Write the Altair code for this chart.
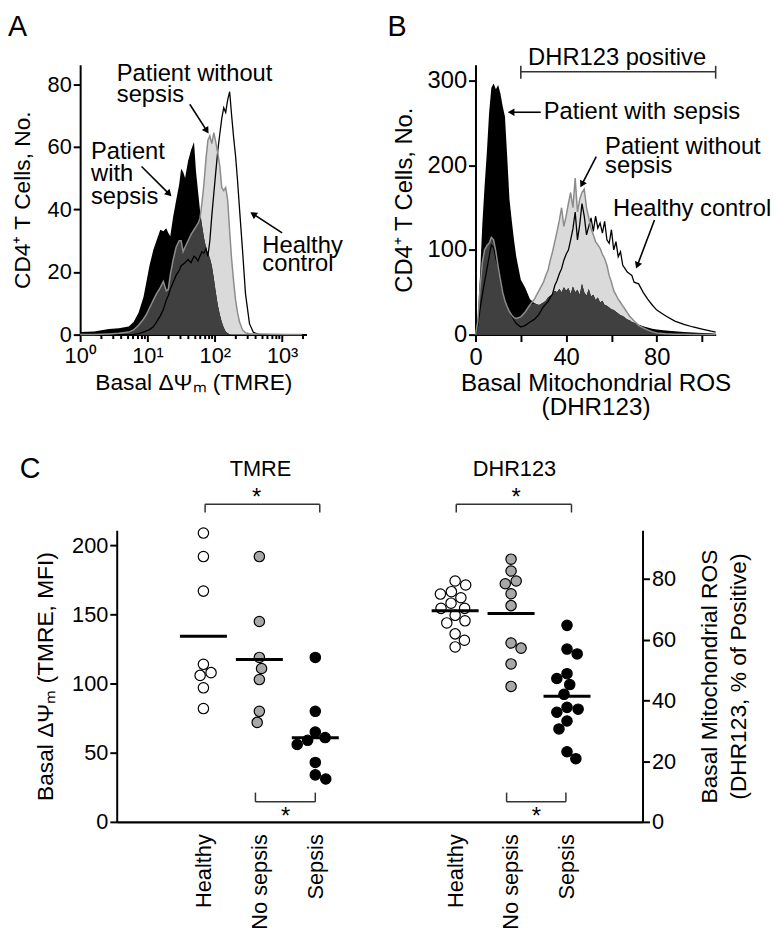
import math
import altair as alt
import pandas as pd

FONT = "Liberation Sans"

# ---------------- Panel A : TMRE histograms (x = TMRE intensity) ----------------
a_tmre = [1.0, 1.61, 2.67, 3.75, 5.26, 6.22, 7.37, 8.73, 9.67, 10.7,
          12.2, 13.6, 15.5, 17.2, 19.0, 20.4, 21.8, 24.1, 26.7, 29.6,
          31.6, 33.8, 36.2, 40.1, 44.4, 49.1, 52.6, 56.2, 60.1, 64.4,
          68.9, 73.8, 78.9, 84.4, 90.3, 96.6, 103.4, 110.7, 118.5, 126.8,
          135.6, 145.1, 155.3, 166.2, 177.8, 190.3, 203.6, 217.9, 233.2, 258,
          285.8, 327.3, 374.9, 458.8, 713, 1185, 1968]
a_sepsis = [0.8, 1.0, 1.8, 2.0, 2.6, 4.0, 7.0, 12, 17, 22,
            27, 30, 33.5, 33, 34, 32.5, 31.4, 37.7, 43, 48,
            53, 52, 50, 55.5, 59, 61.5, 52, 46, 40, 35,
            31, 28, 26, 24.5, 22, 18, 13.5, 9.5, 6.5, 4,
            2.3, 1.0, 0.4, 0.1, 0, 0, 0, 0, 0, 0,
            0, 0, 0, 0, 0, 0, 0]
a_nosepsis = [0, 0, 0.2, 0.4, 0.8, 1.5, 3, 5, 6.5, 8.5,
              11, 13, 15, 17, 14, 14.5, 19, 24, 28, 30,
              30, 26.5, 28, 30, 32, 33.5, 34.5, 35.5, 37, 42,
              48, 56, 62, 63.5, 61, 64.5, 61.5, 58, 54, 47,
              46, 47, 43, 33, 24, 17, 11, 7, 4, 1.5,
              0.6, 0.3, 0.2, 0.2, 0.1, 0, 0]
a_healthy = [0, 0, 0, 0, 0, 0.1, 0.3, 0.8, 1.2, 1.6,
             2.5, 4, 6, 8, 11, 12.5, 14.5, 16.7, 19, 20.5,
             22, 22.5, 23, 24, 23, 25, 24.5, 23.5, 25, 26.5,
             26, 27.5, 25, 30, 38, 45, 52, 58.7, 64, 69,
             72.5, 71, 75, 77.6, 70, 63, 57, 49, 40, 27,
             13, 3.5, 0.7, 0.1, 0, 0, 0]

# ---------------- Panel B : DHR123 histograms ----------------
b_dhr = [0, 1, 2, 3, 4, 5, 6, 7, 8, 9, 10, 11, 12, 13, 14, 15, 16, 17, 18,
         20, 22, 24, 26, 28,
         30, 31, 32, 33, 34, 35, 36, 37, 38, 39, 40, 41, 42, 43, 44, 45, 46, 47, 48, 49,
         50, 51, 52, 53, 54, 55, 56, 57, 58, 59, 60, 61, 62, 63, 64, 65, 66, 67, 68, 69, 70,
         72, 74, 76, 78, 80, 84, 88, 92, 96, 100, 104, 106]
b_sepsis = [0, 20, 70, 130, 175, 215, 262, 292, 297, 290, 295, 285, 270, 258, 210, 160, 135, 112, 92,
            65, 55, 42, 37, 35,
            38, 40, 44, 46, 48, 52, 50, 54, 50, 56, 52, 55, 48, 57, 50, 53, 47, 60, 50, 46,
            54, 45, 47, 41, 44, 38, 40, 35, 34, 32, 30, 29, 27, 25, 23, 22, 20, 18, 17, 15, 14,
            12, 10, 8.5, 7, 6, 5, 4, 3.2, 2.5, 2, 1.5, 1]
b_nosepsis = [0, 15, 55, 85, 100, 105, 108, 115, 112, 98, 80, 65, 50, 40, 33, 27, 23, 20, 19,
              21, 27, 35, 42, 52,
              62, 70, 76, 88, 98, 110, 122, 135, 150, 128, 140, 155, 168, 150, 185, 145, 160, 168, 172, 150,
              138, 125, 118, 110, 106, 102, 95, 90, 82, 70, 62, 52, 47, 42, 38, 34, 30, 26, 22, 19, 16,
              11, 8, 5.5, 3.5, 2, 1, 0.5, 0.3, 0.2, 0.1, 0, 0]
b_healthy = [0, 10, 30, 47, 62, 77, 92, 106, 103, 90, 80, 65, 52, 43, 35, 28, 22, 17, 13,
             9, 11, 15, 18, 24,
             33, 36, 39, 44, 48, 58, 64, 72, 78, 88, 95, 100, 112, 125, 145, 112, 130, 155, 140, 118,
             128, 138, 122, 140, 126, 132, 120, 134, 112, 108, 124, 100, 110, 92, 98, 82, 78, 74, 72, 70, 62,
             60, 50, 42, 35, 29, 22, 16, 12, 9, 6.5, 4, 3]

# ---------------- Panel C : per-patient values ----------------
groups = ["Healthy", "No sepsis", "Sepsis"]
tmre_healthy = [209, 192, 167, 114, 108, 106, 97, 82]
tmre_nosepsis = [192, 145, 119, 111, 103, 80, 72]
tmre_sepsis = [119, 80, 65, 59, 61, 56, 43, 34, 31]
dhr_healthy = [78.0, 79.3, 75.8, 75.0, 73.8, 72.0, 70.3, 70.3, 68.0, 66.2, 65.5, 61.9, 59.8, 57.6]
dhr_nosepsis = [86.5, 82.6, 79.3, 78.4, 75.1, 71.2, 58.9, 57.2, 52.0, 44.6]
dhr_sepsis = [64.7, 56.9, 55.3, 48.8, 47.2, 45.2, 42.0, 37.7, 37.1, 36.1, 33.2, 30.6, 23.1, 20.8]
tmre_pos = [1.5, 2.5, 3.5]
dhr_pos = [6, 7, 8]

NOTE_FS = 24
IND = dict(x="independent", y="independent")


# ================= helpers =================
def arrows(arr, xsc, ysc, xpx, ypx):
    rows = []
    for x1, y1, x2, y2 in arr:
        dx = xpx(x2) - xpx(x1)
        dy = ypx(y2) - ypx(y1)
        ang = math.degrees(math.atan2(dx, -dy)) % 360
        rows.append(dict(x1=x1, y1=y1, x2=x2, y2=y2, ang=ang))
    d = pd.DataFrame(rows)
    rule = alt.Chart(d).mark_rule(strokeWidth=1.6, color="black").encode(
        x=alt.X("x1:Q", scale=xsc, axis=None), y=alt.Y("y1:Q", scale=ysc, axis=None),
        x2="x2:Q", y2="y2:Q")
    head = alt.Chart(d).mark_point(shape="triangle", filled=True, size=60, color="black", opacity=1).encode(
        x=alt.X("x2:Q", scale=xsc, axis=None), y=alt.Y("y2:Q", scale=ysc, axis=None),
        angle=alt.Angle("ang:Q", scale=None))
    return alt.layer(rule, head).resolve_axis(**IND)


def note(t, x, y, xsc, ysc, **kw):
    d = pd.DataFrame({"x": [x], "y": [y], "t": [t]})
    opts = dict(fontSize=NOTE_FS, align="left", baseline="alphabetic", lineBreak="\n", color="black")
    opts.update(kw)
    return alt.Chart(d).mark_text(**opts).encode(
        x=alt.X("x:Q", scale=xsc, axis=None), y=alt.Y("y:Q", scale=ysc, axis=None), text="t:N")


def letter(t, px, py, size=29, opacity=1):
    d = pd.DataFrame({"t": [t]})
    return alt.Chart(d).mark_text(fontSize=size, align="left", baseline="top",
                                  color="black", opacity=opacity).encode(
        x=alt.value(px), y=alt.value(py), text="t:N")


# ================= Panel A =================
A_W, A_H = 229, 273
A_XMAX, A_YMAX = 2300, 86.2
axs = alt.Scale(type="log", domain=[1, A_XMAX], nice=False)
ays = alt.Scale(domain=[0, A_YMAX], nice=False)
a_px = lambda v: A_W * math.log10(v) / math.log10(A_XMAX)
a_py = lambda v: A_H * (1 - v / A_YMAX)

dfA = pd.DataFrame({"x": a_tmre, "S": a_sepsis, "N": a_nosepsis, "H": a_healthy})
baseA = alt.Chart(dfA)
minor = [2, 3, 4, 5, 6, 7, 8, 9, 20, 30, 40, 50, 60, 70, 80, 90,
         200, 300, 400, 500, 600, 700, 800, 900, 2000]
A_n_area = baseA.mark_area(color="#dadada").encode(
    x=alt.X("x:Q", scale=axs, axis=alt.Axis(
        values=[1, 10, 100, 1000], labelFlush=False, labelPadding=4, titlePadding=6,
        labelExpr="datum.value == 1 ? '10⁰' : datum.value == 10 ? '10¹' : datum.value == 100 ? '10²' : '10³'",
        title="Basal ΔΨₘ (TMRE)")),
    y=alt.Y("N:Q", scale=ays, axis=alt.Axis(values=[0, 20, 40, 60, 80], title="CD4⁺ T Cells, No.",
                                            titlePadding=13)))
A_s_area = baseA.mark_area(color="black").encode(
    x=alt.X("x:Q", scale=axs, axis=None), y=alt.Y("S:Q", scale=ays, axis=None))
A_d_area = baseA.transform_calculate(D="min(datum.S, datum.N)").mark_area(color="#404040").encode(
    x=alt.X("x:Q", scale=axs, axis=None), y=alt.Y("D:Q", scale=ays, axis=None))
A_h_line = baseA.mark_line(color="black", strokeWidth=1.3).encode(
    x=alt.X("x:Q", scale=axs, axis=alt.Axis(values=minor, labels=False, domain=False, tickSize=4,
                                            title=None, orient="bottom")),
    y=alt.Y("H:Q", scale=ays, axis=None))
A_n_line = baseA.mark_line(color="#8c8c8c", strokeWidth=1.5).encode(
    x=alt.X("x:Q", scale=axs, axis=None), y=alt.Y("N:Q", scale=ays, axis=None))

A = alt.layer(
    A_n_area, A_s_area, A_d_area, A_h_line, A_n_line,
    note("Patient without\nsepsis", 3.5, 81.1, axs, ays, lineHeight=21),
    note("Patient\nwith\nsepsis", 1.45, 56.2, axs, ays, lineHeight=23),
    note("Healthy\ncontrol", 508, 26.2, axs, ays, lineHeight=18.5),
    arrows([(42.5, 73.6, 74.5, 65.4), (8.16, 53.7, 20.4, 45.2), (1000, 32.5, 383.5, 38.3)],
           axs, ays, a_px, a_py),
    letter("A", -73, -52),
).resolve_axis(**IND).properties(width=A_W, height=A_H)

# ================= Panel B =================
B_W, B_H = 243, 273
B_XMAX, B_YMAX = 106, 319
bxs = alt.Scale(domain=[0, B_XMAX], nice=False)
bys = alt.Scale(domain=[0, B_YMAX], nice=False)
b_px = lambda v: B_W * v / B_XMAX
b_py = lambda v: B_H * (1 - v / B_YMAX)

dfB = pd.DataFrame({"x": b_dhr, "S": b_sepsis, "N": b_nosepsis, "H": b_healthy})
baseB = alt.Chart(dfB)
B_n_area = baseB.mark_area(color="#dadada").encode(
    x=alt.X("x:Q", scale=bxs, axis=alt.Axis(
        values=[0, 20, 40, 60, 80, 100], labelFlush=False, labelPadding=4, titlePadding=3,
        labelFontSize=24, titleFontSize=24.5,
        labelExpr="datum.value % 40 == 0 ? datum.label : ''",
        title=["Basal Mitochondrial ROS", "(DHR123)"], titleLineHeight=24)),
    y=alt.Y("N:Q", scale=bys, axis=alt.Axis(values=[0, 100, 200, 300], title="CD4⁺ T Cells, No.",
                                            labelFontSize=24, titleFontSize=24, titlePadding=11)))
B_s_area = baseB.mark_area(color="black").encode(
    x=alt.X("x:Q", scale=bxs, axis=None), y=alt.Y("S:Q", scale=bys, axis=None))
B_d_area = baseB.transform_calculate(D="min(datum.S, datum.N)").mark_area(color="#404040").encode(
    x=alt.X("x:Q", scale=bxs, axis=None), y=alt.Y("D:Q", scale=bys, axis=None))
B_h_line = baseB.mark_line(color="black", strokeWidth=1.3).encode(
    x=alt.X("x:Q", scale=bxs, axis=None), y=alt.Y("H:Q", scale=bys, axis=None))
B_n_line = baseB.mark_line(color="#8c8c8c", strokeWidth=1.5).encode(
    x=alt.X("x:Q", scale=bxs, axis=None), y=alt.Y("N:Q", scale=bys, axis=None))

pos_bracket = pd.DataFrame({"x": [20, 20, 106], "x2": [106, 20, 106],
                            "y": [310.8, 317.8, 317.8], "y2": [310.8, 302.6, 302.6]})
B_bracket = alt.Chart(pos_bracket).mark_rule(color="#333333", strokeWidth=1.6).encode(
    x=alt.X("x:Q", scale=bxs, axis=None), x2="x2:Q",
    y=alt.Y("y:Q", scale=bys, axis=None), y2="y2:Q")

B = alt.layer(
    B_n_area, B_s_area, B_d_area, B_h_line, B_n_line, B_bracket,
    note("DHR123 positive", 62.5, 319, bxs, bys, align="center"),
    note("Patient with sepsis", 30.1, 254.7, bxs, bys),
    note("Patient without\nsepsis", 57.2, 213.8, bxs, bys, lineHeight=19),
    note("Healthy control", 60.7, 140.2, bxs, bys),
    arrows([(28.8, 262.9, 16.2, 262.9), (53.3, 210.3, 47.2, 178.8), (79.0, 135.5, 71.6, 83.0)],
           bxs, bys, b_px, b_py),
    letter("B", -89, -52),
).resolve_axis(**IND).properties(width=B_W, height=B_H)

# ================= Panel C =================
C_W, C_H = 532, 295
cxs = alt.Scale(domain=[-0.05, 9.35], nice=False, zero=False)
cyl = alt.Scale(domain=[0, 211], nice=False)
cyr = alt.Scale(domain=[0, 96], nice=False)
PPU_X = C_W / 9.4


def swarm(values, ppu_y, d=11.4):
    placed = []
    res = [0.0] * len(values)
    for i in sorted(range(len(values)), key=lambda k: -values[k]):
        y = values[i] * ppu_y
        cands = [0.0]
        for yj, xj in placed:
            dy = abs(y - yj)
            if dy < d:
                w = math.sqrt(d * d - dy * dy)
                cands += [xj - w, xj + w]
        ok = [c for c in cands if all((c - xj) ** 2 + (y - yj) ** 2 >= d * d - 1e-6 for yj, xj in placed)]
        s = sum(x for _, x in placed)
        best = min(ok, key=lambda c: (round(abs(c), 4), c if s > 0 else -c))
        placed.append((y, best))
        res[i] = best / PPU_X
    return res


def build(vals_list, pos, ppu_y):
    rows = []
    for g, vals, p in zip(groups, vals_list, pos):
        for v, o in zip(vals, swarm(vals, ppu_y)):
            rows.append(dict(grp=g, value=v, center=p, xp=p + o))
    return pd.DataFrame(rows)


dfT = build([tmre_healthy, tmre_nosepsis, tmre_sepsis], tmre_pos, C_H / 211)
dfD = build([dhr_healthy, dhr_nosepsis, dhr_sepsis], dhr_pos, C_H / 96)
fill = alt.Fill("grp:N", scale=alt.Scale(domain=groups, range=["white", "#a8a8a8", "black"]), legend=None)

x_axis_C = alt.Axis(values=[1.5, 2.5, 3.5, 6, 7, 8], labelAngle=270, ticks=False, labelPadding=12,
                    domainWidth=2.5, title=None, labelOverlap=False, labelFlush=False,
                    labelExpr="datum.value == 1.5 || datum.value == 6 ? 'Healthy' : "
                              "datum.value == 2.5 || datum.value == 7 ? 'No sepsis' : 'Sepsis'")

T_pts = alt.Chart(dfT).mark_circle(size=110, stroke="black", strokeWidth=1.2, opacity=1).encode(
    x=alt.X("xp:Q", scale=cxs, axis=x_axis_C),
    y=alt.Y("value:Q", scale=cyl, axis=alt.Axis(values=[0, 50, 100, 150, 200],
                                                title="Basal ΔΨₘ (TMRE, MFI)", titlePadding=14)),
    fill=fill)
T_mean = alt.Chart(dfT).transform_aggregate(m="mean(value)", groupby=["grp", "center"]).transform_calculate(
    x1="datum.center - 0.42", x2="datum.center + 0.42").mark_rule(strokeWidth=3, color="black").encode(
    x=alt.X("x1:Q", scale=cxs, axis=None), x2="x2:Q", y=alt.Y("m:Q", scale=cyl, axis=None))

brk = pd.DataFrame({
    "x":  [1.53, 1.53, 3.58, 2.43, 2.43, 3.50, 6.02, 6.02, 8.08, 6.92, 6.92, 7.98],
    "x2": [3.58, 1.53, 3.58, 3.50, 2.43, 3.50, 8.08, 6.02, 8.08, 7.98, 6.92, 7.98],
    "y":  [229.8, 229.8, 229.8, 14.5, 14.5, 14.5, 229.8, 229.8, 229.8, 14.5, 14.5, 14.5],
    "y2": [229.8, 223.9, 223.9, 14.5, 21.2, 21.2, 229.8, 223.9, 223.9, 14.5, 21.2, 21.2]})
C_brk = alt.Chart(brk).mark_rule(color="#333333", strokeWidth=1.5).encode(
    x=alt.X("x:Q", scale=cxs, axis=None), x2="x2:Q", y=alt.Y("y:Q", scale=cyl, axis=None), y2="y2:Q")

left = alt.layer(
    T_pts, T_mean, C_brk,
    note("TMRE", 2.52, 250.4, cxs, cyl, align="center", fontSize=22),
    note("DHR123", 7.06, 250.4, cxs, cyl, align="center", fontSize=22),
    note("*", 2.45, 229.6, cxs, cyl, align="center"),
    note("*", 7.09, 229.6, cxs, cyl, align="center"),
    note("*", 2.97, -1.4, cxs, cyl, align="center"),
    note("*", 7.45, -1.4, cxs, cyl, align="center"),
    letter("C", -98, -76),
    letter(".", -110, -76, opacity=0),
).resolve_axis(**IND)

D_pts = alt.Chart(dfD).mark_circle(size=110, stroke="black", strokeWidth=1.2, opacity=1).encode(
    x=alt.X("xp:Q", scale=cxs, axis=None),
    y=alt.Y("value:Q", scale=cyr, axis=alt.Axis(
        orient="right", values=[0, 20, 40, 60, 80],
        title=["Basal Mitochondrial ROS", "(DHR123, % of Positive)"],
        titleAngle=270, titleBaseline="top", titleAlign="center", titleX=57, titleY=C_H / 2,
        titleLineHeight=29)),
    fill=fill)
D_mean = alt.Chart(dfD).transform_aggregate(m="mean(value)", groupby=["grp", "center"]).transform_calculate(
    x1="datum.center - 0.42", x2="datum.center + 0.42").mark_rule(strokeWidth=3, color="black").encode(
    x=alt.X("x1:Q", scale=cxs, axis=None), x2="x2:Q", y=alt.Y("m:Q", scale=cyr, axis=None))
right = alt.layer(D_pts, D_mean).resolve_axis(**IND)

C = alt.layer(left, right).resolve_scale(y="independent").resolve_axis(**IND).properties(
    width=C_W, height=C_H)

spacer = alt.Chart(pd.DataFrame({"a": [0]})).mark_point(opacity=0).encode(
    x=alt.value(0), y=alt.value(0)).properties(width=1, height=1)

top = alt.hconcat(A, B, spacing=171, bounds="flush")
bottom = alt.hconcat(spacer, C, spacing=36, bounds="flush")
chart = alt.vconcat(top, bottom, spacing=36).properties(padding=0)
chart = chart.configure(font=FONT).configure_view(stroke=None).configure_axis(
    labelFont=FONT, titleFont=FONT, labelFontSize=22, titleFontSize=23, labelColor="black",
    titleColor="black", domainColor="black", tickColor="black", domainWidth=2, tickWidth=2,
    tickSize=7, grid=False, titleFontWeight="normal").configure_text(font=FONT)

chart.save("out.html", embed_options={"renderer": "svg", "actions": False})
